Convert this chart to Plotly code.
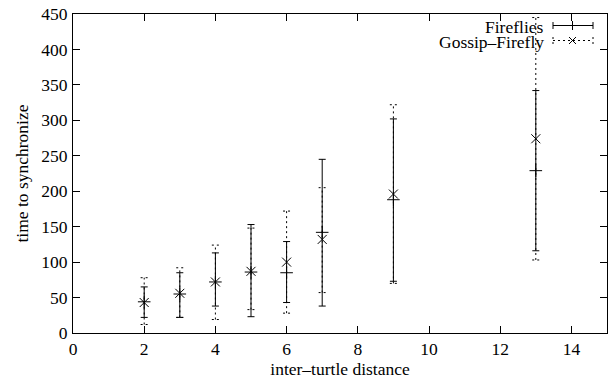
import plotly.graph_objects as go

# ---- data ----
distance = [2, 3, 4, 5, 6, 7, 9, 13]

fireflies_mean = [44, 55, 72, 86, 85, 142, 188, 229]
fireflies_low = [22, 22, 38, 23, 43, 38, 73, 116]
fireflies_high = [65, 85, 113, 153, 129, 245, 302, 342]

gossip_mean = [43, 56, 72, 87, 100, 132, 196, 274]
gossip_low = [12, 22, 19, 33, 28, 57, 70, 103]
gossip_high = [78, 92, 124, 148, 172, 205, 322, 445]

x_ticks = [0, 2, 4, 6, 8, 10, 12, 14]
y_ticks = [0, 50, 100, 150, 200, 250, 300, 350, 400, 450]

FONT = "Liberation Serif"
FS = 17.5
W, H = 608, 379
L, R, T, B = 73, 1, 14, 46
PW, PH = W - L - R, H - T - B


def px(xp):
    return (xp - L) / PW


def py(yp):
    return (H - B - yp) / PH


fig = go.Figure()

# Fireflies: solid error bars with + markers
fig.add_trace(go.Scatter(
    x=distance, y=fireflies_mean, mode="markers", name="Fireflies",
    marker=dict(symbol="cross-thin", size=9, line=dict(color="black", width=1), color="black"),
    error_y=dict(type="data", symmetric=False,
                 array=[h - m for h, m in zip(fireflies_high, fireflies_mean)],
                 arrayminus=[m - l for m, l in zip(fireflies_mean, fireflies_low)],
                 color="black", thickness=1, width=3.5),
    showlegend=False,
))

# Gossip-Firefly: dotted error bars (built from the data) with x markers
cap = 0.1
gx, gy = [], []
for xv, lo, hi in zip(distance, gossip_low, gossip_high):
    gx += [xv, xv, None, xv - cap, xv + cap, None, xv - cap, xv + cap, None]
    gy += [lo, hi, None, lo, lo, None, hi, hi, None]
fig.add_trace(go.Scatter(
    x=gx, y=gy, mode="lines", line=dict(color="black", width=1, dash="2px,3px"),
    showlegend=False, hoverinfo="skip", cliponaxis=True,
))
fig.add_trace(go.Scatter(
    x=distance, y=gossip_mean, mode="markers", name="Gossip\u2013Firefly",
    marker=dict(symbol="x-thin", size=9, line=dict(color="black", width=1), color="black"),
    showlegend=False,
))

# ---- manual gnuplot-style key ----
shapes = []
ann = []
key_x0, key_x1, key_mid = 553, 593, 572.5
y1, y2 = 25.5, 40.5
# Fireflies sample
shapes.append(dict(type="line", xref="paper", yref="paper", x0=px(key_x0), x1=px(key_x1),
                   y0=py(y1), y1=py(y1), line=dict(color="black", width=1)))
for xe in (key_x0, key_x1):
    shapes.append(dict(type="line", xref="paper", yref="paper", x0=px(xe), x1=px(xe),
                       y0=py(y1 - 3.5), y1=py(y1 + 3.5), line=dict(color="black", width=1)))
shapes.append(dict(type="line", xref="paper", yref="paper", x0=px(key_mid), x1=px(key_mid),
                   y0=py(y1 - 4.5), y1=py(y1 + 4.5), line=dict(color="black", width=1)))
# Gossip sample
shapes.append(dict(type="line", xref="paper", yref="paper", x0=px(key_x0), x1=px(key_x1),
                   y0=py(y2), y1=py(y2), line=dict(color="black", width=1, dash="2px,3px")))
for xe in (key_x0, key_x1):
    shapes.append(dict(type="line", xref="paper", yref="paper", x0=px(xe), x1=px(xe),
                       y0=py(y2 - 3.5), y1=py(y2 + 3.5), line=dict(color="black", width=1, dash="2px,3px")))
for s in (1, -1):
    shapes.append(dict(type="line", xref="paper", yref="paper", x0=px(key_mid - 3.5), x1=px(key_mid + 3.5),
                       y0=py(y2 - 3.5 * s), y1=py(y2 + 3.5 * s), line=dict(color="black", width=1)))

ann.append(dict(xref="paper", yref="paper", x=px(546), y=py(y1 + 1), text="Fireflies",
                showarrow=False, xanchor="right", yanchor="middle",
                font=dict(family=FONT, size=FS, color="black")))
ann.append(dict(xref="paper", yref="paper", x=px(546), y=py(y2 + 2), text="Gossip\u2013Firefly",
                showarrow=False, xanchor="right", yanchor="middle",
                font=dict(family=FONT, size=FS, color="black")))

axis_common = dict(
    showline=True, linecolor="black", linewidth=1, mirror="ticks",
    ticks="inside", ticklen=7, tickwidth=1, tickcolor="black",
    showgrid=False, zeroline=False, automargin=False,
    tickfont=dict(family=FONT, size=FS, color="black"),
)

fig.update_layout(
    width=W, height=H,
    margin=dict(l=L, r=R, t=T, b=B),
    paper_bgcolor="white", plot_bgcolor="white",
    showlegend=False,
    shapes=shapes, annotations=ann,
    xaxis=dict(range=[0, 15], tickvals=x_ticks, ticktext=[str(v) for v in x_ticks],
               title=dict(text="inter\u2013turtle distance", font=dict(family=FONT, size=FS, color="black"),
                          standoff=0),
               ticklabelstandoff=0, **axis_common),
    yaxis=dict(range=[0, 450], tickvals=y_ticks, ticktext=[str(v) for v in y_ticks],
               title=dict(text="time to synchronize", font=dict(family=FONT, size=FS, color="black"),
                          standoff=8),
               ticklabelstandoff=1, **axis_common),
)

fig.write_html("out.html", config={"displayModeBar": False},
               post_script="document.body.style.margin='0';document.body.style.padding='0';")
